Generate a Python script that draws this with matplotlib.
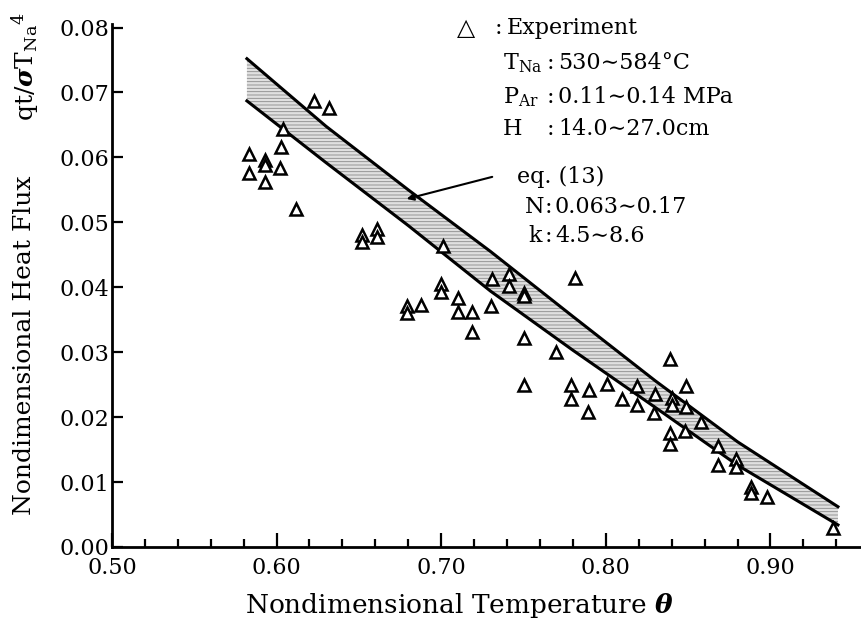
import numpy as np
import matplotlib
matplotlib.use('Agg')
import matplotlib.pyplot as plt
from matplotlib.ticker import MultipleLocator

plt.rcParams['font.family'] = ['DejaVu Serif', 'DejaVu Sans']
plt.rcParams['mathtext.fontset'] = 'custom'
plt.rcParams['mathtext.rm'] = 'DejaVu Serif'
plt.rcParams['mathtext.it'] = 'DejaVu Serif:italic:bold'
plt.rcParams['mathtext.bf'] = 'DejaVu Serif:bold'
plt.rcParams['hatch.linewidth'] = 0.6
plt.rcParams['hatch.color'] = '#7a7a7a'

# experiment points (theta, q/sigma T^4)
theta = [0.583, 0.583, 0.593, 0.593, 0.593, 0.603, 0.602, 0.604, 0.612, 0.623,
         0.632, 0.652, 0.652, 0.661, 0.661, 0.701, 0.679, 0.679, 0.688, 0.700,
         0.700, 0.710, 0.710, 0.719, 0.719, 0.730, 0.731, 0.741, 0.741, 0.750,
         0.750, 0.750, 0.750, 0.770, 0.781, 0.779, 0.779, 0.790, 0.789, 0.801,
         0.810, 0.819, 0.819, 0.830, 0.829, 0.839, 0.840, 0.840, 0.849, 0.849,
         0.848, 0.858, 0.839, 0.839, 0.868, 0.868, 0.879, 0.879, 0.888, 0.888,
         0.898, 0.938]
flux = [0.0605, 0.0576, 0.0596, 0.0589, 0.0562, 0.0616, 0.0584, 0.0644, 0.0521, 0.0687,
        0.0676, 0.0481, 0.0470, 0.0489, 0.0478, 0.0463, 0.0371, 0.0360, 0.0372, 0.0405,
        0.0392, 0.0383, 0.0362, 0.0362, 0.0331, 0.0371, 0.0412, 0.0421, 0.0402, 0.0391,
        0.0387, 0.0322, 0.0250, 0.0300, 0.0415, 0.0250, 0.0228, 0.0241, 0.0208, 0.0251,
        0.0228, 0.0248, 0.0218, 0.0236, 0.0207, 0.0290, 0.0230, 0.0218, 0.0248, 0.0216,
        0.0179, 0.0193, 0.0176, 0.0158, 0.0155, 0.0126, 0.0136, 0.0123, 0.0093, 0.0083,
        0.0077, 0.0029]

# eq. (13) band
band_x = [0.582, 0.63, 0.68, 0.73, 0.78, 0.83, 0.88, 0.941]
band_hi = [0.0752, 0.0648, 0.0550, 0.0455, 0.0355, 0.0256, 0.0162, 0.0062]
band_lo = [0.0687, 0.0592, 0.0495, 0.0394, 0.0303, 0.0215, 0.0126, 0.0034]

xticks = [0.5, 0.6, 0.7, 0.8, 0.9]
xticklabels = ['0.50', '0.60', '0.70', '0.80', '0.90']
yticks = [0, 0.01, 0.02, 0.03, 0.04, 0.05, 0.06, 0.07, 0.08]
yticklabels = ['0.00', '0.01', '0.02', '0.03', '0.04', '0.05', '0.06', '0.07', '0.08']

fig = plt.figure(figsize=(8.61, 6.39), dpi=100)
ax = fig.add_axes([0.130, 0.144, 0.870, 0.818])

ax.fill_between(band_x, band_lo, band_hi, facecolor='#e0e0e0', hatch='-----',
                edgecolor='#8a8a8a', linewidth=0)
ax.plot(band_x, band_hi, color='black', lw=2.2)
ax.plot(band_x, band_lo, color='black', lw=2.2)

ax.plot(theta, flux, linestyle='none', marker='^', markersize=8,
        markerfacecolor='white', markeredgecolor='black', markeredgewidth=1.8)

ax.annotate('', xy=(0.679, 0.0536), xytext=(0.731, 0.0570),
            arrowprops=dict(arrowstyle='-|>', color='black', lw=1.5,
                            mutation_scale=10, shrinkA=0, shrinkB=0))

ax.set_xlim(0.5, 0.955)
ax.set_ylim(0, 0.0805)
ax.xaxis.set_minor_locator(MultipleLocator(0.02))
ax.set_xticks(xticks)
ax.set_xticklabels(xticklabels)
ax.set_yticks(yticks)
ax.set_yticklabels(yticklabels)
ax.tick_params(axis='both', which='both', direction='in', width=1.6, labelsize=16)
ax.tick_params(axis='x', which='major', length=10, pad=7)
ax.tick_params(axis='x', which='minor', length=6)
ax.tick_params(axis='y', which='major', length=8, pad=2)
for s in ['top', 'right']:
    ax.spines[s].set_visible(False)
for s in ['left', 'bottom']:
    ax.spines[s].set_linewidth(2)

fs = 16
fig.text(459 / 861, 1 - 605 / 639, r'Nondimensional Temperature $\theta$',
         fontsize=19, ha='center', va='center')
fig.text(25 / 861, 1 - 345 / 639, 'Nondimensional Heat Flux', rotation=90,
         fontsize=18, ha='center', va='center')
fig.text(25 / 861, 1 - 67 / 639, r'qt/$\sigma$T$_{\rm Na}$$^{\rm 4}$', rotation=90,
         fontsize=18, ha='center', va='center')

fig.text(457 / 861, 1 - 28 / 639, '△', fontsize=fs + 1, va='center', family=['DejaVu Sans'])
fig.text(495 / 861, 1 - 28 / 639, ':', fontsize=fs, va='center')
fig.text(507 / 861, 1 - 28 / 639, 'Experiment', fontsize=fs, va='center')
rows = [(63, r'T$_{\rm Na}$', '530∼584°C'),
        (97, r'P$_{\rm Ar}$', '0.11∼0.14 MPa'),
        (129, 'H', '14.0∼27.0cm')]
for yy, lab, val in rows:
    fig.text(503 / 861, 1 - yy / 639, lab, fontsize=fs, va='center')
    fig.text(547 / 861, 1 - yy / 639, ':', fontsize=fs, va='center')
    fig.text(558 / 861, 1 - yy / 639, val, fontsize=fs, va='center')

fig.text(517 / 861, 1 - 177 / 639, 'eq. (13)', fontsize=fs, va='center')
fig.text(525 / 861, 1 - 207 / 639, 'N', fontsize=fs, va='center')
fig.text(545 / 861, 1 - 207 / 639, ':', fontsize=fs, va='center')
fig.text(555 / 861, 1 - 207 / 639, '0.063∼0.17', fontsize=fs, va='center')
fig.text(528 / 861, 1 - 236 / 639, 'k', fontsize=fs, va='center')
fig.text(545 / 861, 1 - 236 / 639, ':', fontsize=fs, va='center')
fig.text(555 / 861, 1 - 236 / 639, '4.5∼8.6', fontsize=fs, va='center')

fig.savefig('out.png', dpi=100)
